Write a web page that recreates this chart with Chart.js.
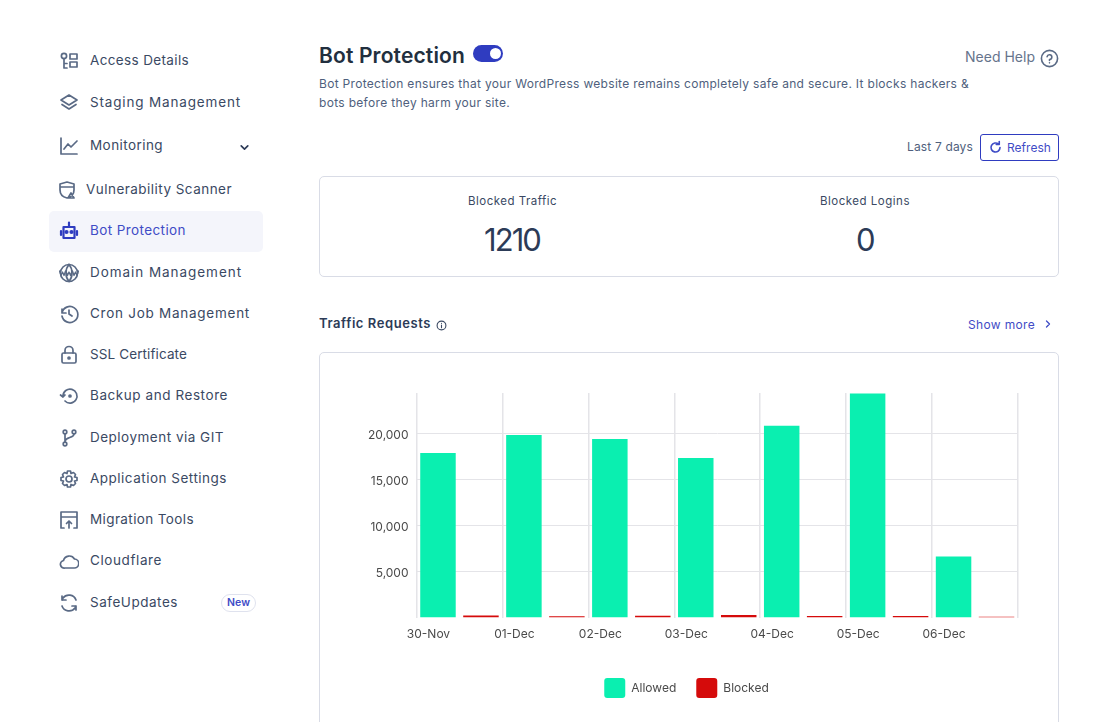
<!DOCTYPE html>
<html>
<head>
<meta charset="utf-8">
<title>Bot Protection</title>
<script src="https://cdn.jsdelivr.net/npm/chart.js@4/dist/chart.umd.min.js"></script>
<style>
html, body { margin: 0; padding: 0; background: #fff; overflow: hidden; }
body { width: 1111px; height: 722px; position: relative; font-family: Inter, sans-serif; }
.t { position: absolute; white-space: nowrap; transform: translateY(-50%); line-height: 1; }
.box { position: absolute; box-sizing: border-box; }
svg { position: absolute; fill: none; stroke-linecap: round; stroke-linejoin: round; }
#chartWrap { position: absolute; left: 340px; top: 380px; width: 700px; height: 330px; }
</style>
</head>
<body>
<div class="box" style="left:49px;top:211px;width:214px;height:41px;background:#f4f5fb;border-radius:5px"></div>
<div class="box" style="left:319px;top:176px;width:740px;height:101px;border:1px solid #d9dce6;border-radius:5px"></div>
<div class="box" style="left:319px;top:352px;width:740px;height:400px;border:1px solid #d9dce6;border-radius:5px"></div>
<div class="box" style="left:473px;top:45px;width:30px;height:17px;background:#2f3cc0;border-radius:9px"></div>
<div class="box" style="left:490px;top:48px;width:11px;height:11px;background:#fff;border-radius:50%"></div>
<div class="box" style="left:980px;top:134px;width:79px;height:27px;border:1px solid #2f3cc0;border-radius:3px"></div>
<div class="box" style="left:221px;top:594px;width:35px;height:18px;border:1px solid #dfe2ee;border-radius:9px"></div>
<div id="chartWrap"><canvas id="trafficChart" width="700" height="330"></canvas></div>

<script>
// chart data
var days = ['30-Nov', '01-Dec', '02-Dec', '03-Dec', '04-Dec', '05-Dec', '06-Dec'];
var allowed = [17890, 19850, 19410, 17340, 20830, 24350, 6650];
var blocked = [220, 140, 200, 290, 170, 170, 90];
var yTicks = [5000, 10000, 15000, 20000];

// sidebar: label, centre y, width
var menuLabels = ['Access Details', 'Staging Management', 'Monitoring', 'Vulnerability Scanner', 'Bot Protection', 'Domain Management', 'Cron Job Management', 'SSL Certificate', 'Backup and Restore', 'Deployment via GIT', 'Application Settings', 'Migration Tools', 'Cloudflare', 'SafeUpdates'];
var menuY = [60, 102, 145, 189, 230, 272, 313, 354, 395, 437, 478, 519, 560, 602];
var menuWidth = [99, 151, 73, 146, 96, 152, 160, 97, 138, 134, 137, 104, 72, 88];

var ink = '#3a4963', soft = '#4f5f7d', blue = '#3f4cc6';

function addText(label, x, cy, w, size, color, weight) {
    var el = document.createElement('div');
    el.className = 't';
    el.textContent = label;
    el.style.cssText = 'left:' + x + 'px;top:' + cy + 'px;font-size:' + size + 'px;color:' + color + ';font-weight:' + (weight || 400);
    document.body.appendChild(el);
    // squeeze or stretch to the width seen in the picture
    var diff = w - el.getBoundingClientRect().width;
    el.style.letterSpacing = (diff / label.length) + 'px';
}

menuLabels.forEach(function (label, i) {
    var x = label === 'Vulnerability Scanner' ? 86 : 90;
    addText(label, x, menuY[i] + 1, menuWidth[i], 13.5, label === 'Bot Protection' ? blue : ink);
});
addText('New', 227, 603, 23, 10.5, blue, 600);
addText('Bot Protection', 319, 55, 146, 21, '#222f3e', 600);
addText('Need Help', 965, 57, 70, 14, '#66748c');
addText('Bot Protection ensures that your WordPress website remains completely safe and secure. It blocks hackers &', 319, 84, 650, 12, soft);
addText('bots before they harm your site.', 319, 103, 191, 12, soft);
addText('Last 7 days', 907, 147, 66, 12, soft);
addText('Refresh', 1007, 148, 44, 12, blue);
addText('Blocked Traffic', 468, 202, 89, 11.5, ink);
addText('Blocked Logins', 820, 202, 90, 11.5, ink);
addText('1210', 484, 239, 56, 31, '#2c3b57');
addText('0', 856, 239, 18, 31, '#2c3b57');
addText('Traffic Requests', 319, 323, 112, 13, '#2c3b57', 600);
addText('Show more', 968, 325, 67, 12, blue);

// simple line icons, 20px box centred on the given point
var icons = {
    key: '<circle cx="5" cy="5" r="2.6"/><path d="M5 7.6V17H8M5 12.5H8M11 3H18V8H11ZM11 11H18V16H11Z"/>',
    layers: '<path d="M10 2L18 7L10 12L2 7ZM3 11.5L10 16L17 11.5"/>',
    graph: '<path d="M2 2V18H18M5 13L9 8L12 11L18 5"/>',
    shield: '<path d="M10 2L17 4V10C17 14 14 17 10 18C6 17 3 14 3 10V4ZM3 7H17M14 13L17 18H11Z"/>',
    bot: '<path d="M10 1.500V5M4.500 6H15.500V17H4.500ZM2 10V14M18 10V14"/><circle cx="7.500" cy="11" r="1"/><circle cx="12.500" cy="11" r="1"/>',
    www: '<circle cx="10" cy="10" r="8.500"/><path d="M10 1.500C6 6 6 14 10 18.500C14 14 14 6 10 1.500"/><path d="M0.500 8L2 12.500L3.500 9L5 12.500L6.500 8M7 8L8.500 12.500L10 9L11.500 12.500L13 8M13.500 8L15 12.500L16.500 9L18 12.500L19.500 8" stroke-width="1.300"/>',
    clock: '<path d="M3 5V9H7M3 9A8 8 0 1 1 3 12M10 6V10L13 12"/>',
    lock: '<rect x="3" y="8" width="14" height="10" rx="1.500"/><path d="M6 8V5.500A4 4 0 0 1 14 5.500V8"/><circle cx="10" cy="13" r="1"/>',
    restore: '<path d="M1.500 9L4 11L6 9M4 10A7 7 0 1 1 6 15"/><circle cx="11" cy="10" r="1"/>',
    git: '<circle cx="6" cy="4" r="1.800"/><circle cx="6" cy="16" r="1.800"/><circle cx="15" cy="4" r="1.800"/><path d="M6 6V14M15 6C15 10 7 9 6 13"/>',
    gear: '<circle cx="10" cy="10" r="3"/><path d="M8.500 2H11.500L12 4.500L14.500 3.500L16.500 5.500L15.500 8L18 8.500V11.500L15.500 12L16.500 14.500L14.500 16.500L12 15.500L11.500 18H8.500L8 15.500L5.500 16.500L3.500 14.500L4.500 12L2 11.500V8.500L4.500 8L3.500 5.500L5.500 3.500L8 4.500Z"/>',
    migrate: '<path d="M5 18H2V2H18V18H15M2 7H18M10 18V11M7.500 13.500L10 11L12.500 13.500"/>',
    cloud: '<path d="M6 17H15A4.500 4.500 0 0 0 15.500 8A6 6 0 0 0 4.500 9.500A3.800 3.800 0 0 0 6 17Z"/>',
    sync: '<path d="M17 7A7.500 7.500 0 0 0 4 5L3 7M3 3V7H7M3 13A7.500 7.500 0 0 0 16 15L17 13M17 17V13H13"/>',
    refresh: '<path d="M16 10A6 6 0 1 1 14 5.500M15 2V6H11"/>',
    help: '<circle cx="10" cy="10" r="8.500"/><path d="M7.500 8A2.500 2.500 0 1 1 10 11V12M10 14.500V14.600"/>',
    info: '<circle cx="10" cy="10" r="8"/><path d="M10 9V14M10 6V6.100"/>',
    down: '<path d="M4 7L10 13L16 7"/>',
    right: '<path d="M7 4L13 10L7 16"/>'
};
function addIcon(name, cx, cy, size, color, sw) {
    var s = document.createElementNS('http://www.w3.org/2000/svg', 'svg');
    s.setAttribute('viewBox', '0 0 20 20');
    s.setAttribute('width', size);
    s.setAttribute('height', size);
    s.style.cssText = 'left:' + (cx - size / 2) + 'px;top:' + (cy - size / 2) + 'px;stroke:' + color + ';stroke-width:' + sw;
    s.innerHTML = icons[name];
    document.body.appendChild(s);
}
var menuIcons = ['key', 'layers', 'graph', 'shield', 'bot', 'www', 'clock', 'lock', 'restore', 'git', 'gear', 'migrate', 'cloud', 'sync'];
menuIcons.forEach(function (name, i) {
    addIcon(name, name === 'shield' ? 67 : 69, menuY[i] + 1, 20, name === 'bot' ? '#2f3cc0' : '#5a6a85', name === 'bot' ? 2.2 : 1.7);
});
addIcon('down', 244, 147, 11, '#2c3b57', 3);
addIcon('help', 1049, 58, 19, '#5a6a85', 1.7);
addIcon('refresh', 995, 147, 15, blue, 2.2);
addIcon('info', 441, 325, 11, '#3a4963', 2);
addIcon('right', 1048, 324, 10, blue, 2.6);

// chart
Chart.defaults.font.family = 'Inter, sans-serif';
new Chart(document.getElementById('trafficChart'), {
    type: 'bar',
    data: {
        labels: days,
        datasets: [
            { label: 'Allowed', data: allowed, backgroundColor: '#0aefb0', borderWidth: 0 },
            { label: 'Blocked', data: blocked, backgroundColor: '#d50b0b', borderWidth: 0 }
        ]
    },
    options: {
        responsive: false,
        animation: false,
        categoryPercentage: 1,
        barPercentage: 0.826,
        layout: { padding: { top: 13, right: 22, bottom: 2, left: 15 } },
        plugins: {
            tooltip: { enabled: false },
            legend: {
                position: 'bottom',
                labels: {
                    boxWidth: 21,
                    boxHeight: 20,
                    useBorderRadius: true,
                    borderRadius: 3,
                    padding: 20,
                    color: '#4a4a4a',
                    font: { size: 12 }
                }
            }
        },
        scales: {
            x: {
                afterFit: function (axis) { axis.height += 6; },
                grid: { color: '#e4e4e8', lineWidth: 1.5, drawTicks: false },
                border: { display: false },
                ticks: { labelOffset: -31, maxRotation: 0, autoSkip: false, color: '#4a4a4a', padding: 10, font: { size: 12 } }
            },
            y: {
                min: 0,
                max: 24400,
                afterBuildTicks: function (axis) {
                    axis.ticks = yTicks.map(function (v) { return { value: v }; });
                },
                afterFit: function (axis) {
                    axis.width = 61.5;
                    axis.paddingTop = 0;
                    axis.paddingBottom = 0;
                },
                grid: { color: '#e4e4e8', drawTicks: false },
                border: { display: false },
                ticks: {
                    color: '#4a4a4a',
                    padding: 8,
                    labelOffset: 1.5,
                    font: { size: 12 },
                    callback: function (v) { return v.toLocaleString('en-US'); }
                }
            }
        }
    }
});
</script>
</body>
</html>
